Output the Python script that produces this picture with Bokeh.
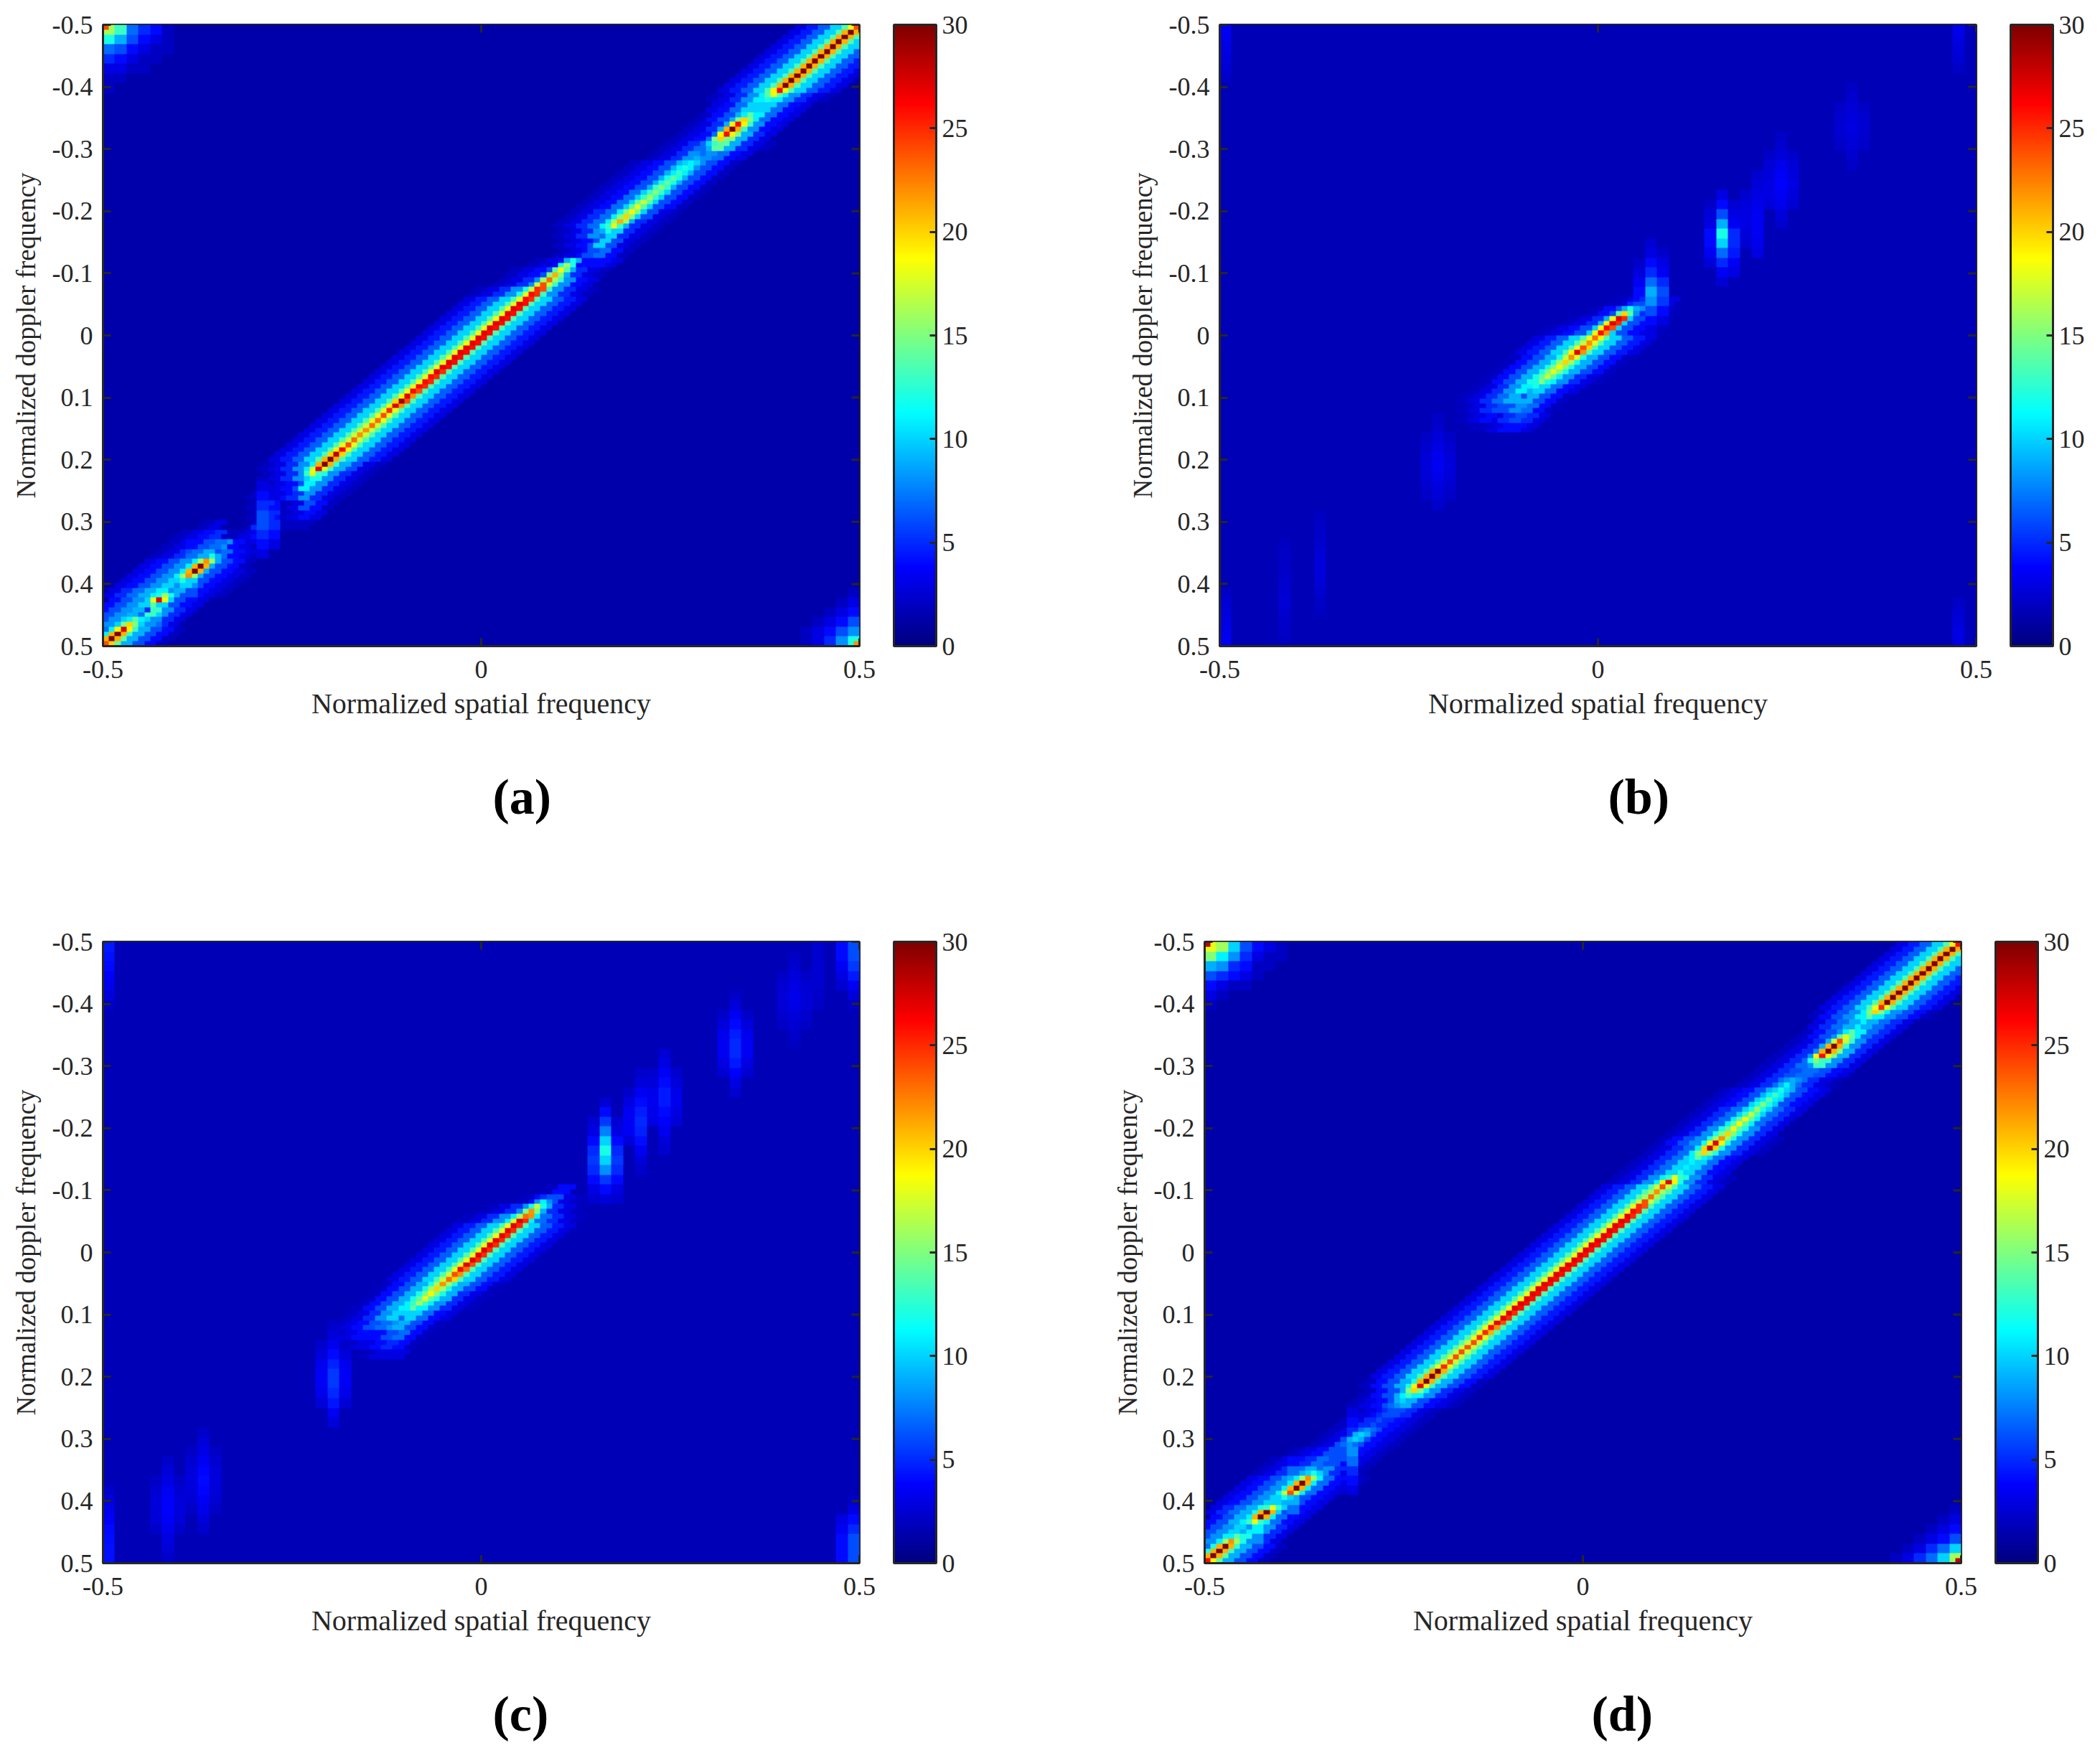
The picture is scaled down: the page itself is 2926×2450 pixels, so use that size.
import numpy as np
from bokeh.embed import file_html
from bokeh.layouts import column, row
from bokeh.models import ColorBar, FixedTicker, LinearColorMapper, Range1d, Title
from bokeh.plotting import figure
from bokeh.resources import INLINE

# all values (level 0-30).
# glow tables: one line per 2 map rows, 11 steps across the ridge (each 2 cells), 0 = background
x_ticks = [-0.5, 0, 0.5]
y_ticks = [-0.5, -0.4, -0.3, -0.2, -0.1, 0, 0.1, 0.2, 0.3, 0.4, 0.5]
bar_ticks = [0, 5, 10, 15, 20, 25, 30]
captions = ["(a)", "(b)", "(c)", "(d)"]
backgrounds = [1.4, 1.65, 1.65, 1.4]

strong = [3, 4.5, 6.5, 10, 13.5, 14, 13.5, 10, 6.5, 4.5, 3]

band_a = [strong] * 7 + [
    [2, 3, 5, 8, 11, 13, 11, 8, 5, 3, 2], [0, 3, 4, 7, 10, 11, 10, 7, 4, 3, 0],
    [0, 2, 4, 6, 9, 14, 11, 7, 4, 3, 0], [0, 2, 3, 5, 9, 16, 13, 8, 4, 3, 0],
    [0, 2, 3, 4, 7, 16, 15, 9, 5, 3, 0], [0, 2, 3, 5, 7, 9, 14, 9, 5, 3, 2],
    [0, 2, 3, 5, 8, 7, 8, 7, 4, 3, 0], [2, 3, 4, 6, 9, 12, 8, 6, 4, 2, 0],
    [2, 3, 4, 6, 9, 13, 9, 6, 4, 2, 0], [2, 3, 4, 6, 9, 13, 9, 6, 4, 2, 0],
    [2, 3, 4, 7, 10, 14, 10, 6, 4, 2, 0], [2, 3, 4, 7, 10, 14, 10, 6, 4, 2, 0],
    [2, 3, 5, 7, 11, 15, 10, 6, 3, 2, 0], [2, 3, 5, 7, 11, 15, 9, 5, 3, 2, 0],
    [0, 2, 3, 5, 8, 12, 10, 5, 3, 2, 0], [0, 0, 2, 3, 4, 6, 10, 6, 3, 2, 0],
    [0, 0, 0, 2, 3, 4, 6, 7, 4, 2, 0], [0, 0, 2, 3, 4, 6, 4, 4, 4, 3, 0],
    [0, 2, 3, 4, 6, 9, 9, 5, 3, 2, 0], [0, 2, 3, 5, 8, 13, 13, 8, 4, 3, 0],
    [2, 3, 5, 8, 12, 14, 13, 8, 5, 3, 2],
] + [strong] * 17 + [
    [2, 3, 5, 8, 11, 14, 13, 9, 6, 3, 2], [0, 2, 3, 5, 8, 13, 12, 8, 5, 3, 2],
    [0, 0, 2, 3, 4, 6, 11, 8, 5, 3, 2], [0, 0, 2, 3, 3, 4, 5, 8, 5, 3, 2],
    [0, 0, 0, 2, 5, 4, 2, 3, 6, 4, 2], [0, 0, 0, 0, 2, 6, 5, 2, 3, 4, 3],
    [0, 2, 3, 0, 0, 2, 5, 4, 2, 2, 2], [2, 3, 4, 5, 2, 2, 3, 4, 3, 0, 0],
    [2, 3, 4, 6, 7, 8, 4, 3, 2, 2, 0], [2, 3, 5, 7, 9, 10, 7, 4, 3, 2, 0],
    [3, 4, 6, 8, 11, 14, 9, 6, 4, 2, 0], [3, 4, 6, 8, 11, 14, 9, 6, 4, 3, 2],
    [3, 4, 6, 8, 10, 12, 10, 6, 4, 3, 2], [3, 5, 7, 9, 11, 13, 9, 6, 4, 3, 2],
    [0, 4, 6, 8, 10, 14, 10, 6, 4, 3, 0], [0, 4, 6, 8, 9, 10, 13, 8, 5, 3, 0],
    [0, 0, 6, 8, 10, 13, 10, 8, 5, 3, 0], [0, 0, 0, 7, 11, 14, 13, 9, 6, 4, 2],
    [0, 0, 0, 0, 0, 14, 14, 9, 6, 4, 2],
]

band_d = [strong] * 7 + [
    [2, 4, 6, 8, 11, 13, 11, 8, 6, 4, 2], [0, 3, 5, 7, 9, 11, 9, 7, 5, 3, 0],
    [0, 2, 4, 6, 8, 13, 11, 7, 5, 3, 0], [0, 2, 3, 5, 9, 16, 13, 8, 5, 3, 0],
    [0, 2, 3, 5, 8, 16, 15, 9, 5, 3, 0], [0, 2, 3, 5, 7, 9, 13, 8, 5, 3, 0],
    [0, 2, 3, 5, 6, 7, 7, 6, 4, 3, 0], [0, 2, 3, 5, 7, 10, 7, 5, 3, 2, 0],
    [2, 3, 4, 6, 9, 12, 9, 6, 4, 3, 0], [2, 3, 4, 6, 10, 13, 10, 6, 4, 3, 0],
    [2, 3, 5, 7, 10, 13, 10, 7, 5, 3, 0], [2, 3, 5, 7, 11, 14, 11, 7, 5, 3, 0],
    [2, 3, 5, 8, 12, 14, 12, 8, 5, 3, 0], [2, 4, 6, 8, 12, 14, 12, 8, 5, 3, 2],
    [2, 3, 5, 7, 11, 14, 12, 8, 5, 3, 2], [2, 3, 5, 7, 10, 11, 10, 7, 4, 3, 0],
    [2, 3, 5, 7, 10, 11, 10, 7, 4, 3, 0], [2, 3, 5, 8, 11, 14, 12, 8, 5, 3, 2],
] + [strong] * 20 + [
    [2, 4, 6, 9, 12, 14, 13, 9, 6, 4, 2], [0, 2, 4, 6, 9, 13, 11, 8, 5, 3, 2],
    [0, 2, 3, 4, 6, 8, 9, 6, 4, 3, 2], [0, 0, 2, 3, 4, 5, 6, 5, 3, 2, 0],
    [0, 0, 2, 3, 5, 6, 5, 4, 3, 2, 0], [0, 0, 2, 3, 5, 8, 6, 4, 3, 2, 0],
    [0, 0, 2, 3, 6, 10, 6, 4, 3, 2, 0], [0, 2, 3, 4, 6, 9, 6, 4, 3, 2, 0],
    [2, 3, 4, 5, 7, 7, 6, 4, 3, 2, 0], [2, 3, 5, 7, 9, 9, 8, 5, 3, 2, 0],
    [3, 4, 6, 8, 11, 14, 11, 7, 4, 3, 2], [3, 4, 6, 8, 11, 14, 11, 7, 4, 3, 2],
    [3, 4, 6, 8, 10, 12, 9, 6, 4, 3, 0], [3, 5, 7, 9, 12, 14, 10, 6, 4, 3, 0],
    [0, 4, 6, 9, 11, 14, 11, 7, 4, 3, 0], [0, 4, 6, 8, 10, 11, 11, 8, 5, 3, 0],
    [0, 0, 6, 8, 11, 14, 12, 8, 5, 3, 0], [0, 0, 0, 7, 12, 14, 13, 9, 6, 4, 2],
    [0, 0, 0, 0, 0, 14, 14, 9, 6, 4, 2],
]

band_first_b = 28
band_b = [
    [0, 0, 0, 2, 3, 5, 6, 5, 3, 0, 0], [0, 0, 2, 4, 6, 11, 8, 5, 3, 2, 0],
    [0, 2, 3, 5, 9, 13, 10, 6, 4, 3, 0], [2, 3, 4, 6, 10, 14, 10, 6, 4, 3, 2],
    strong, strong,
    [2, 4, 6, 9, 12, 13, 12, 9, 6, 4, 2], [2, 4, 6, 9, 12, 13, 12, 9, 6, 4, 2],
    [2, 4, 6, 9, 12, 12, 11, 8, 5, 3, 2], [2, 3, 5, 8, 11, 11, 10, 7, 4, 3, 0],
    [2, 3, 5, 7, 9, 9, 9, 6, 4, 2, 0], [0, 2, 3, 5, 6, 6, 8, 7, 4, 2, 0],
    [0, 0, 2, 3, 4, 3, 5, 6, 5, 3, 0], [0, 0, 0, 0, 2, 2, 3, 4, 4, 3, 0],
]

band_first_c = 25
band_c = [
    [0, 0, 0, 0, 2, 4, 4, 0, 0, 0, 0], [0, 0, 0, 2, 4, 8, 6, 3, 2, 0, 0],
    [0, 2, 3, 5, 8, 12, 9, 5, 3, 2, 0], [2, 3, 5, 8, 11, 14, 11, 7, 5, 3, 2],
    strong, strong, strong, strong, strong, strong,
    [2, 4, 6, 9, 12, 13, 12, 9, 6, 4, 2], [2, 4, 6, 9, 12, 13, 12, 9, 5, 3, 2],
    [2, 4, 6, 9, 11, 12, 11, 8, 5, 3, 2], [2, 3, 5, 8, 10, 11, 10, 7, 4, 3, 0],
    [2, 3, 4, 6, 7, 8, 9, 6, 4, 2, 0], [0, 2, 3, 4, 4, 4, 6, 7, 4, 2, 0],
    [0, 0, 0, 2, 3, 3, 4, 5, 4, 2, 0], [0, 0, 0, 0, 0, 0, 2, 3, 3, 3, 0],
]

# separate blobs and corners: coarse column, first coarse row, levels going down
blobs_a = [
    (0, 0, [16, 12, 7, 5, 3, 2, 2]), (1, 0, [13, 9, 6, 4, 3, 2]), (2, 0, [7, 6, 4, 3, 2]),
    (3, 0, [5, 4, 3, 2, 2]), (4, 0, [4, 3, 2, 2]), (5, 0, [2, 2, 2]),
    (63, 58, [2, 3, 4, 6, 8, 12]), (62, 59, [2, 3, 4, 6, 8]), (61, 60, [2, 3, 4, 5]),
    (60, 61, [2, 3, 3]), (59, 62, [2, 2]),
    (13, 47, [3, 4, 5, 6, 6, 5, 4, 3]), (14, 48, [3, 4, 4, 5, 4, 3]),
    (4, 57, [5, 8, 10, 10, 7]), (7, 53, [4, 6, 8, 10, 8, 6]),
]
blobs_b = [
    (53, 6, [2.2, 2.4, 2.6, 2.8, 3, 2.8, 2.6, 2.4, 2.2]),
    (52, 8, [2.2, 2.4, 2.5, 2.4, 2.2]), (54, 8, [2.2, 2.4, 2.5, 2.4, 2.2]),
    (47, 11, [2.2, 2.4, 2.8, 3.2, 3.6, 3.8, 3.5, 3.2, 2.8, 2.4]),
    (48, 13, [2.3, 2.6, 2.9, 3, 2.8, 2.5]), (46, 13, [2.3, 2.6, 2.9, 3, 3, 2.8]),
    (45, 15, [2.4, 2.8, 3, 3.2, 3.4, 3.5, 3.5, 3.2, 3]),
    (44, 17, [2.4, 2.7, 3, 3, 2.8, 2.5]),
    (42, 17, [3, 4, 6, 9, 12, 10, 7, 5, 3.5, 2.5]),
    (43, 18, [2.5, 3, 3.5, 5, 5, 4.5, 3.5, 3]),
    (41, 18, [2.2, 2.8, 3, 4, 4, 3.5, 2.8]),
    (36, 22, [2.5, 3, 4, 5, 7, 9, 8, 6, 4, 3]),
    (37, 23, [2.3, 3, 3.5, 5, 6, 5.5, 4, 3]),
    (35, 24, [2.2, 2.7, 3.5, 4, 4, 3, 2.5]),
    (18, 40, [2.2, 2.4, 2.7, 3, 3.3, 3.5, 3.2, 2.9, 2.6, 2.3]),
    (17, 42, [2.2, 2.4, 2.6, 2.7, 2.6, 2.4, 2.2]), (19, 42, [2.2, 2.4, 2.6, 2.7, 2.6, 2.4, 2.2]),
    (8, 50, [2.1, 2.2, 2.3, 2.4, 2.6, 2.8, 2.8, 2.6, 2.4, 2.2, 2.1]),
    (5, 53, [2.1, 2.2, 2.2, 2.3, 2.4, 2.5, 2.6, 2.4, 2.3, 2.2, 2.1]),
    (0, 0, [3.5, 3.2, 3, 2.8, 2.5, 2.2]), (0, 58, [2.2, 2.5, 2.8, 3, 3.2, 3.5]),
    (62, 0, [3.2, 3, 2.8, 2.5, 2.2]), (62, 59, [2.2, 2.5, 2.8, 3, 3]),
]
blobs_c = [
    (58, 1, [2.2, 2.4, 2.7, 3, 3.2, 3.1, 2.8, 2.5, 2.3, 2.1]),
    (57, 3, [2.2, 2.5, 2.6, 2.6, 2.4, 2.2]), (59, 3, [2.2, 2.5, 2.6, 2.6, 2.4, 2.2]),
    (60, 0, [2.4, 2.4, 2.5, 2.5, 2.4, 2.3, 2.2]),
    (53, 5, [2.2, 2.8, 3.4, 4, 4.6, 5, 5, 4.5, 3.8, 3, 2.4]),
    (54, 7, [2.3, 2.8, 3.3, 3.5, 3.4, 3, 2.5]), (52, 7, [2.3, 2.8, 3.3, 3.5, 3.4, 3, 2.5]),
    (47, 11, [2.5, 3, 3.6, 4.1, 4.5, 4.5, 4, 3.7, 3.3, 2.8, 2.4]),
    (48, 13, [2.4, 2.8, 3.2, 3.3, 3, 2.6]), (46, 13, [2.4, 2.8, 3.2, 3.3, 3.2, 3]),
    (45, 13, [2.3, 2.8, 3.4, 4, 4.6, 5, 4.7, 4.2, 3.5, 2.8, 2.3]),
    (44, 15, [2.3, 3, 3.5, 3.6, 3.4, 2.8]),
    (42, 16, [2.5, 4, 5.5, 7.5, 10, 12, 10, 8, 5.5, 4, 2.8]),
    (43, 18, [2.5, 3, 4, 5, 5.5, 5, 4, 3, 2.5]), (41, 18, [2.5, 3, 4, 5, 5.5, 5, 4, 3, 2.5]),
    (19, 39, [2.3, 2.8, 3.3, 4, 4.8, 5.5, 5.5, 5, 4.4, 3.5, 2.8]),
    (18, 41, [2.3, 2.8, 3.3, 3.6, 3.6, 3.2, 2.6]), (20, 41, [2.3, 2.8, 3.3, 3.6, 3.6, 3.2, 2.6]),
    (8, 50, [2.3, 2.7, 3.1, 3.5, 3.9, 4, 3.9, 3.6, 3.2, 2.8, 2.4]),
    (7, 52, [2.2, 2.5, 2.8, 2.9, 2.8, 2.5, 2.2]), (9, 52, [2.2, 2.5, 2.8, 2.9, 2.8, 2.5, 2.2]),
    (5, 53, [2.3, 2.7, 3, 3.4, 3.7, 3.8, 3.6, 3.3, 3, 2.6, 2.3]),
    (4, 55, [2.2, 2.5, 2.7, 2.8, 2.6, 2.3]), (6, 55, [2.2, 2.5, 2.7, 2.8, 2.6, 2.3]),
    (0, 0, [4.5, 4.3, 4, 3.6, 3.2, 2.8, 2.3]), (0, 56, [2.3, 2.8, 3.2, 3.6, 4, 4.2, 4.3, 4.3]),
    (63, 0, [6, 6, 5.5, 4.5, 3.5, 2.8, 2.2]), (62, 0, [4, 4, 3.5, 3, 2.5]),
    (63, 57, [2.2, 3, 4, 5, 6, 6, 6]), (62, 59, [3, 3.5, 4, 4, 4]),
]
blobs_d = [
    (0, 0, [18, 15, 9, 6, 4, 3, 2]), (1, 0, [16, 11, 8, 5, 3, 2]), (2, 0, [10, 8, 5, 4, 2]),
    (3, 0, [6, 5, 4, 3, 2]), (4, 0, [4, 3, 2, 2]), (5, 0, [3, 2, 2]), (6, 0, [2, 2]),
    (63, 58, [2, 3, 4, 6, 10, 16]), (62, 59, [2, 3, 4, 7, 10]), (61, 60, [2, 3, 5, 7]),
    (60, 61, [2, 3, 5]), (59, 62, [2, 3]), (58, 63, [2]),
    (12, 48, [3, 4, 5, 6, 8, 7, 5, 4, 3]),
    (4, 57, [5, 8, 11, 11, 8]), (7, 53, [4, 7, 9, 11, 9, 7]),
]

# single bright map cells in the corners: column, row, level
corners_a = [(0, 0, 24), (127, 127, 22)]
corners_d = [(0, 0, 28), (127, 127, 28)]

# ridge cells, one per map column from the left, 0 = no ridge cell there
peak_a = [24, 30, 30, 27, 20, 14, 7, 5, 14, 27, 16, 8, 8, 12, 22, 30,
          30, 22, 12, 6, 0, 0, 0, 0, 0, 0, 0, 0, 0, 0, 0, 0,
          0, 0, 10, 18, 27, 30, 30, 28, 26, 24, 23, 22, 22, 23, 23, 24,
          25, 27, 29, 27, 26, 26, 26, 26, 27, 27, 27, 27, 27, 27, 27, 27,
          27, 27, 27, 27, 27, 27, 27, 26, 26, 25, 24, 23, 21, 19, 16, 12,
          0, 0, 0, 0, 7, 12, 18, 21, 20, 19, 18, 17, 16, 15, 15, 14,
          14, 13, 12, 11, 9, 0, 0, 13, 20, 26, 30, 26, 20, 14, 10, 10,
          12, 18, 26, 30, 30, 30, 30, 30, 30, 30, 30, 30, 30, 30, 30, 24]
side_a = [20, 21, 21, 19, 15, 11, 6, 5, 10, 18, 12, 8, 8, 9, 16, 21,
          21, 16, 9, 5, 0, 0, 0, 0, 0, 0, 0, 0, 0, 0, 0, 0,
          0, 0, 8, 13, 18, 21, 21, 20, 19, 18, 17, 17, 17, 17, 18, 18,
          18, 19, 20, 19, 18, 18, 18, 18, 18, 18, 18, 18, 18, 18, 18, 18,
          18, 18, 18, 18, 18, 18, 18, 18, 18, 17, 17, 16, 15, 14, 12, 9,
          0, 0, 0, 0, 6, 9, 13, 16, 15, 15, 14, 14, 13, 13, 13, 12,
          12, 11, 11, 10, 8, 0, 0, 10, 15, 19, 21, 19, 15, 11, 9, 9,
          10, 14, 19, 21, 21, 21, 21, 21, 21, 21, 21, 21, 21, 21, 21, 18]
peak_d = [26, 30, 30, 30, 22, 14, 9, 8, 18, 30, 30, 18, 10, 12, 24, 30,
          30, 22, 12, 7, 6, 6, 6, 6, 8, 10, 10, 8, 6, 6, 6, 6,
          8, 10, 13, 20, 27, 30, 30, 30, 25, 24, 24, 24, 24, 24, 25, 25,
          26, 27, 27, 27, 27, 27, 27, 27, 27, 27, 27, 27, 27, 27, 27, 27,
          27, 27, 27, 27, 27, 27, 27, 27, 26, 25, 24, 23, 22, 24, 27, 18,
          12, 11, 11, 14, 20, 28, 27, 22, 20, 19, 19, 19, 17, 16, 15, 14,
          13, 12, 11, 9, 7, 7, 8, 15, 26, 30, 30, 24, 18, 14, 11, 11,
          14, 20, 25, 30, 30, 30, 30, 30, 30, 30, 30, 30, 30, 30, 30, 26]
side_d = [19, 21, 21, 21, 16, 11, 8, 7, 13, 21, 21, 13, 9, 10, 17, 21,
          21, 16, 10, 6, 5, 5, 5, 5, 7, 9, 9, 7, 5, 5, 5, 5,
          7, 9, 11, 15, 19, 21, 21, 21, 18, 17, 17, 17, 17, 17, 18, 18,
          18, 18, 18, 18, 18, 18, 18, 18, 18, 18, 18, 18, 18, 18, 18, 18,
          18, 18, 18, 18, 18, 18, 18, 18, 18, 18, 17, 16, 16, 17, 19, 13,
          10, 9, 9, 11, 15, 20, 19, 16, 15, 14, 14, 14, 13, 12, 12, 11,
          11, 10, 9, 8, 6, 6, 7, 12, 19, 21, 21, 17, 14, 11, 9, 9,
          11, 15, 18, 21, 21, 21, 21, 21, 21, 21, 21, 21, 21, 21, 21, 19]
peak_first_b = 51
peak_b = [6, 9, 12, 15, 17, 18, 19, 20, 22, 27, 24, 22, 23, 26, 26, 27, 27, 20, 12, 6]
side_b = [5, 8, 10, 12, 14, 15, 15, 16, 17, 19, 18, 17, 18, 19, 19, 19, 18, 14, 9, 5]
peak_first_c = 50
peak_c = [7, 10, 14, 16, 18, 19, 20, 22, 23, 24, 26, 27, 27, 27, 27, 27, 27, 27, 27, 27, 27, 23, 22, 17, 11, 6]
side_c = [6, 8, 11, 13, 14, 15, 16, 16, 17, 17, 18, 18, 18, 18, 18, 18, 18, 18, 18, 18, 18, 16, 15, 12, 8, 5]

# where the ridge is two cells wide: the cell right of the ridge cell
twin_first_a = 49
twin_a = [22, 24, 22, 24, 25, 25, 25, 25, 26, 26, 26, 26, 26, 26, 26, 26, 26, 26, 26, 26, 26, 26, 25, 25, 24]
twin_first_b = 59
twin_b = [18, 22, 20, 18, 19, 22, 24, 25, 25]
twin_first_c = 58
twin_c = [20, 22, 23, 24, 25, 25, 25, 25, 25, 25, 25, 25, 25, 22]
twin_first_d = 47
twin_d = [21, 22, 24, 25, 25, 26, 26, 26, 26, 26, 26, 26, 26, 26, 26, 26, 26, 26, 26, 26, 26, 26, 26, 26, 25, 25, 24]

INK = "#262626"
SERIF = "Liberation Serif"
TICK_LEN = 11


def jet(n=256):
    out = []
    for i in range(n):
        t = i / (n - 1)
        r = min(max(min(4 * t - 1.5, -4 * t + 4.5), 0), 1)
        g = min(max(min(4 * t - 0.5, -4 * t + 3.5), 0), 1)
        b = min(max(min(4 * t + 0.5, -4 * t + 2.5), 0), 1)
        out.append("#%02x%02x%02x" % (int(r * 255), int(g * 255), int(b * 255)))
    return out


def build_map(bg, band, band_first, blobs, peak, side, peak_first, twin, twin_first, corners=()):
    grid = np.full((128, 128), float(bg))

    for i, vals in enumerate(band):
        r = band_first + i
        for rw in (2 * r, 2 * r + 1):
            for d in range(-10, 11):
                step = (abs(d) + 1) // 2
                v = vals[5 + step if d > 0 else 5 - step]
                col = 127 - rw + d
                if 0 <= col < 128 and v > 0:
                    grid[rw, col] = max(grid[rw, col], v)
    for c, r0, vals in blobs:
        for i, v in enumerate(vals):
            cells = grid[2 * (r0 + i):2 * (r0 + i) + 2, 2 * c:2 * c + 2]
            cells[cells < v] = v
    for i, (pk, sd) in enumerate(zip(peak, side)):
        k = peak_first + i
        if pk == 0:
            continue
        rw = 127 - k
        for col in (k - 1, k + 1):
            if 0 <= col < 128:
                grid[rw, col] = max(grid[rw, col], sd)
        grid[rw, k] = pk
    for i, v in enumerate(twin):
        k = twin_first + i
        grid[127 - k, k + 1] = v
    for col, rw, v in corners:
        grid[rw, col] = v
    return grid


def panel(grid, caption, left, top, right, height, cap_offset, cap_standoff):
    mapper = LinearColorMapper(palette=jet(), low=0, high=30)
    p = figure(width=left + 1054 + right, height=height, toolbar_location=None, output_backend="svg",
               x_range=Range1d(-0.5, 0.5), y_range=Range1d(0.5, -0.5),
               frame_width=1054, frame_height=866, min_border_left=left, min_border_top=top,
               min_border_right=right, min_border_bottom=height - top - 866,
               x_axis_label="Normalized spatial frequency", y_axis_label="Normalized doppler frequency")
    p.image(image=[grid], x=-0.5, y=-0.5, dw=1, dh=1, color_mapper=mapper)
    p.grid.visible = False
    p.outline_line_color = INK
    p.outline_line_width = 3
    p.background_fill_color = "white"

    p.xaxis.ticker = FixedTicker(ticks=x_ticks)
    p.yaxis.ticker = FixedTicker(ticks=y_ticks)
    p.xaxis.major_label_overrides = {t: ("%g" % t) for t in x_ticks}
    p.yaxis.major_label_overrides = {t: ("%g" % t) for t in y_ticks}
    for ax in [p.xaxis[0], p.yaxis[0]]:
        ax.major_tick_in = TICK_LEN
        ax.major_tick_out = 0
        ax.minor_tick_line_color = None
        ax.major_tick_line_color = INK
        ax.major_tick_line_width = 3
        ax.axis_line_color = INK
        ax.axis_line_width = 3
        ax.major_label_text_font = SERIF
        ax.major_label_text_font_size = "36px"
        ax.major_label_text_color = INK
        ax.axis_label_text_font = SERIF
        ax.axis_label_text_font_style = "normal"
        ax.axis_label_text_color = INK
    p.xaxis.axis_label_text_font_size = "40px"
    p.yaxis.axis_label_text_font_size = "37px"
    p.xaxis.major_label_standoff = 20
    p.yaxis.major_label_standoff = 14
    p.xaxis.axis_label_standoff = 10
    p.yaxis.axis_label_standoff = 13

    # ticks on the far sides too
    p.segment(x0=x_ticks, y0=[-0.5] * 3, x1=x_ticks, y1=[-0.5 + TICK_LEN / 866] * 3, line_color=INK, line_width=3)
    p.segment(x0=[0.5] * 11, y0=y_ticks, x1=[0.5 - TICK_LEN / 1054] * 11, y1=y_ticks, line_color=INK, line_width=3)

    bar = ColorBar(color_mapper=mapper, ticker=FixedTicker(ticks=bar_ticks), width=59, height=866,
                   location=(1102, 0), padding=0, margin=0, label_standoff=8, major_tick_in=9, major_tick_line_color=INK,
                   major_tick_line_width=3, minor_tick_line_color=None, bar_line_color=INK, bar_line_width=3,
                   major_label_text_font=SERIF, major_label_text_font_size="36px", major_label_text_color=INK,
                   border_line_color=None, background_fill_color=None)
    p.add_layout(bar)

    p.add_layout(Title(text=caption, align="left", offset=cap_offset, standoff=cap_standoff, text_font=SERIF,
                       text_font_style="bold", text_font_size="70px", text_color="black"), "below")
    return p


fig_a = panel(build_map(backgrounds[0], band_a, 0, blobs_a, peak_a, side_a, 0, twin_a, twin_first_a, corners_a),
              captions[0], 143, 34, 311, 1278, 543, 128)
fig_b = panel(build_map(backgrounds[1], band_b, band_first_b, blobs_b, peak_b, side_b, peak_first_b, twin_b, twin_first_b),
              captions[1], 191, 34, 165, 1278, 541, 128)
fig_c = panel(build_map(backgrounds[2], band_c, band_first_c, blobs_c, peak_c, side_c, peak_first_c, twin_c, twin_first_c),
              captions[2], 143, 34, 311, 1164, 543, 128)
fig_d = panel(build_map(backgrounds[3], band_d, 0, blobs_d, peak_d, side_d, 0, twin_d, twin_first_d, corners_d),
              captions[3], 170, 34, 186, 1164, 539, 128)

page = column(row(fig_a, fig_b, spacing=0), row(fig_c, fig_d, spacing=0), spacing=0)
open("out.html", "w").write(file_html(page, INLINE))
